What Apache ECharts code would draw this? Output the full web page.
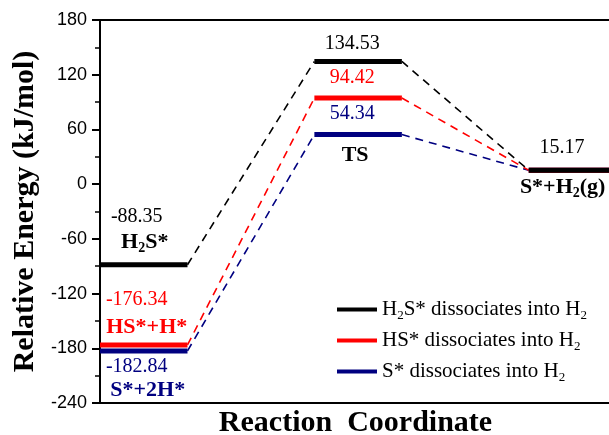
<!DOCTYPE html>
<html>
<head>
<meta charset="utf-8">
<script src="https://cdn.jsdelivr.net/npm/echarts@6/dist/echarts.min.js"></script>
<style>
  html, body { margin: 0; padding: 0; background: #fff; }
  #chart { width: 609px; height: 435px; }
</style>
</head>
<body>
<div id="chart"></div>
<script>
// Reaction stages along the coordinate: [start, end] of each energy level
const stageSpans = [[0, 1], [2.45, 3.45], [4.9, 6]];

// Relative energies (kJ/mol) for each pathway at each stage
const pathwayNames = ['H2S* dissociates into H2', 'HS* dissociates into H2', 'S* dissociates into H2'];
const energyH2S = [-88.35, 134.53, 15.17];
const energyHS = [-176.34, 94.42, 15.17];
const energyS = [-182.84, 54.34, 15.17];

// Y axis ticks
const yTicks = { min: -240, max: 180, step: 60 };

const colors = ['#000000', '#ff0000', '#000080'];
const energies = [energyH2S, energyHS, energyS];

const serif = 'Liberation Serif';
const sans = 'Liberation Sans';

// Rich-text styles with subscripts
function richStyles(size, bold, color) {
  const w = bold ? 'bold' : 'normal';
  const sub = Math.round(size * 0.62);
  return {
    n: { fontFamily: serif, fontSize: size, fontWeight: w, color: color, lineHeight: size + 4 },
    s: { fontFamily: serif, fontSize: sub, fontWeight: w, color: color,
         lineHeight: sub, verticalAlign: 'bottom', padding: [4, 0, 0, 0] }
  };
}

const legendRich = {
  'H2S* dissociates into H2': '{n|H}{s|2}{n|S* dissociates into H}{s|2}',
  'HS* dissociates into H2': '{n|HS* dissociates into H}{s|2}',
  'S* dissociates into H2': '{n|S* dissociates into H}{s|2}'
};

// Solid level segments and dashed connectors per pathway
function levelData(e) {
  const d = [];
  stageSpans.forEach((span, i) => {
    if (i > 0) d.push([(stageSpans[i - 1][1] + span[0]) / 2, '-']);
    d.push([span[0], e[i]], [span[1], e[i]]);
  });
  return d;
}
function connectorData(e) {
  const d = [];
  for (let i = 0; i < stageSpans.length - 1; i++) {
    if (i > 0) d.push([(stageSpans[i][0] + stageSpans[i][1]) / 2, '-']);
    d.push([stageSpans[i][1], e[i]], [stageSpans[i + 1][0], e[i + 1]]);
  }
  return d;
}

const series = [];
// draw order: navy, red, black (black on top)
[2, 1, 0].forEach(k => {
  series.push({
    name: pathwayNames[k] + ' path',
    type: 'line',
    data: connectorData(energies[k]),
    symbol: 'none',
    connectNulls: false,
    lineStyle: { color: colors[k], width: 1.6, type: [8, 6] },
    z: 2,
    silent: true
  });
});
[2, 1, 0].forEach(k => {
  series.push({
    name: pathwayNames[k],
    type: 'line',
    data: levelData(energies[k]),
    symbol: 'none',
    connectNulls: false,
    color: colors[k],
    lineStyle: { color: colors[k], width: 5, cap: 'butt' },
    z: 3,
    silent: true
  });
});

// Energy value labels, positioned relative to the level midpoints
function mid(i) { return (stageSpans[i][0] + stageSpans[i][1]) / 2; }
const valueLabels = [
  { k: 0, i: 0, off: [-7, -48] },
  { k: 1, i: 0, off: [-7, -45] },
  { k: 2, i: 0, off: [-7, 16] },
  { k: 0, i: 1, off: [-6, -18] },
  { k: 1, i: 1, off: [-6, -20] },
  { k: 2, i: 1, off: [-6, -21] },
  { k: 0, i: 2, off: [-15, -23] }
];
series.push({
  name: 'values',
  type: 'scatter',
  symbolSize: 1,
  itemStyle: { color: 'transparent', opacity: 1 },
  silent: true,
  z: 5,
  data: valueLabels.map(v => ({
    value: [mid(v.i), energies[v.k][v.i]],
    label: {
      show: true, position: 'inside', offset: v.off, opacity: 1,
      formatter: p => p.value[1].toFixed(2),
      fontFamily: serif, fontSize: 20, color: colors[v.k],
      textBorderWidth: 0
    }
  }))
});

// State names
const stateLabels = [
  { text: '{n|H}{s|2}{n|S*}', k: 0, i: 0, off: [1, -22], align: 'center', color: colors[0] },
  { text: '{n|HS*+H*}', k: 1, i: 0, off: [3, -18], align: 'center', color: colors[1] },
  { text: '{n|S*+2H*}', k: 2, i: 0, off: [4, 39], align: 'center', color: colors[2] },
  { text: '{n|TS}', k: 2, i: 1, off: [-3, 21], align: 'center', color: colors[0] },
  { text: '{n|S*+H}{s|2}{n|(g)}', k: 0, i: 2, off: [-57, 17], align: 'left', color: colors[0] }
];
series.push({
  name: 'states',
  type: 'scatter',
  symbolSize: 1,
  itemStyle: { color: 'transparent', opacity: 1 },
  silent: true,
  z: 5,
  data: stateLabels.map(s => ({
    value: [mid(s.i), energies[s.k][s.i]],
    label: {
      show: true, position: 'inside', offset: s.off, align: s.align, opacity: 1,
      formatter: () => s.text,
      textBorderWidth: 0,
      rich: richStyles(22, true, s.color)
    }
  }))
});

const chart = echarts.init(document.getElementById('chart'), null, { renderer: 'canvas' });
chart.setOption({
  animation: false,
  backgroundColor: '#fff',
  grid: {
    left: 100, top: 20, bottom: 32, width: 525,
    outerBoundsMode: 'none',
    show: true, borderColor: '#000', borderWidth: 2, backgroundColor: 'transparent'
  },
  legend: {
    data: pathwayNames,
    orient: 'vertical',
    left: 332, top: 294,
    icon: 'rect', itemWidth: 40, itemHeight: 4, itemGap: 8,
    formatter: name => legendRich[name],
    textStyle: { rich: richStyles(21, false, '#000') },
    selectedMode: false
  },
  xAxis: {
    type: 'value', min: 0, max: 6,
    name: 'Reaction  Coordinate',
    nameLocation: 'middle', nameGap: 5,
    nameTextStyle: { fontFamily: serif, fontWeight: 'bold', fontSize: 30, color: '#000', padding: [0, 14, 0, 0] },
    axisLine: { show: true, onZero: false, lineStyle: { color: '#000', width: 2 } },
    axisTick: { show: false }, axisLabel: { show: false }, splitLine: { show: false }
  },
  yAxis: {
    type: 'value', min: yTicks.min, max: yTicks.max, interval: yTicks.step,
    name: 'Relative Energy (kJ/mol)',
    nameLocation: 'middle', nameGap: 60,
    nameTextStyle: { fontFamily: serif, fontWeight: 'bold', fontSize: 30, color: '#000' },
    axisLine: { show: true, onZero: false, lineStyle: { color: '#000', width: 2 } },
    axisTick: { show: true, length: 8, lineStyle: { color: '#000', width: 2 } },
    minorTick: { show: true, splitNumber: 2, length: 5, lineStyle: { color: '#000', width: 1.5 } },
    axisLabel: { fontFamily: sans, fontSize: 18, color: '#000', margin: 13 },
    splitLine: { show: false }
  },
  series: series
});
</script>
</body>
</html>
